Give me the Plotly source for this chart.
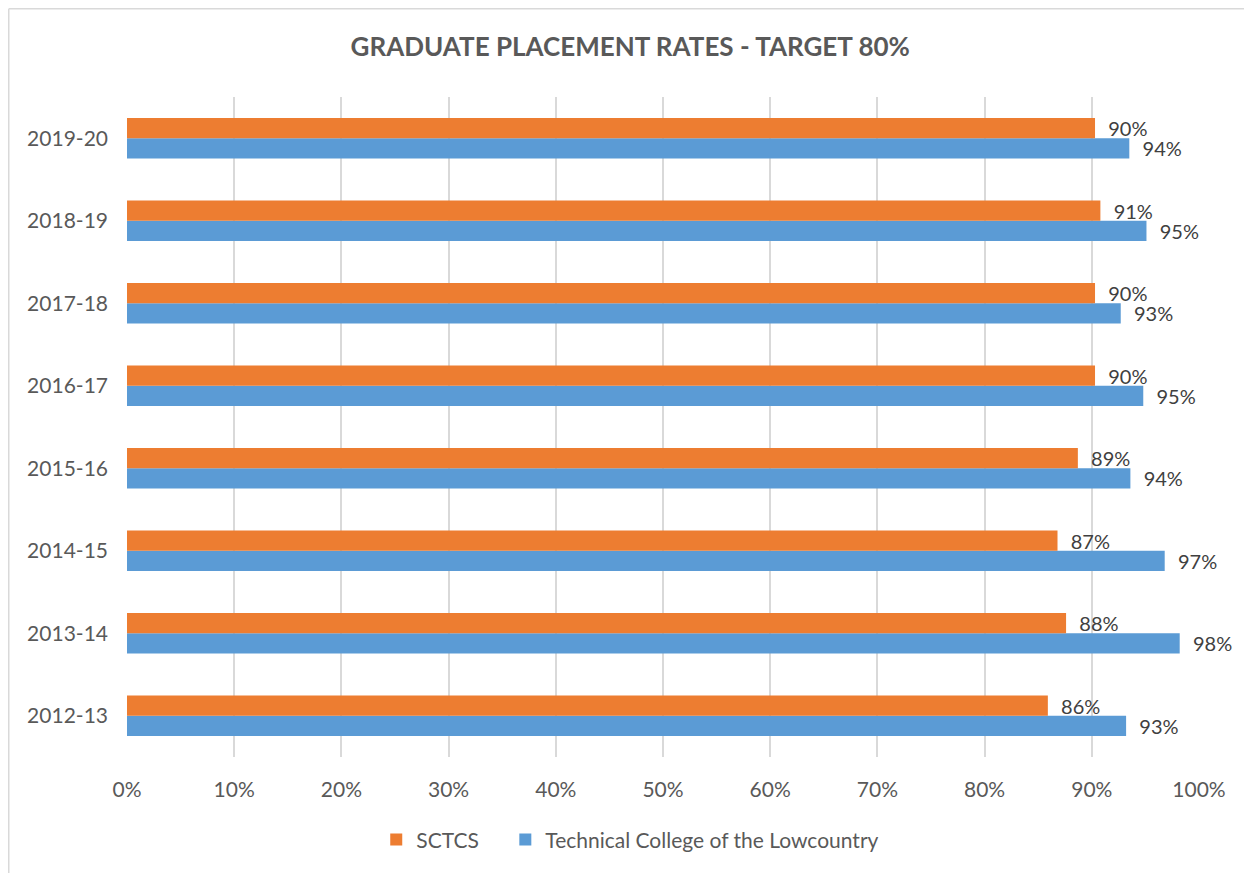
import plotly.graph_objects as go

years = ["2012-13", "2013-14", "2014-15", "2015-16", "2016-17", "2017-18", "2018-19", "2019-20"]
sctcs = [0.859, 0.876, 0.868, 0.887, 0.903, 0.903, 0.908, 0.903]
tcl = [0.932, 0.982, 0.968, 0.936, 0.948, 0.927, 0.951, 0.935]

font_family = "Lato, 'Open Sans', sans-serif"
label_tpl = "\u00a0\u00a0%{x:.0%}"

fig = go.Figure()

# blue first so it sits below the orange bar in each group
fig.add_trace(go.Bar(y=years, x=tcl, orientation="h", name="Technical College of the Lowcountry",
                     marker=dict(color="#5b9bd5", line=dict(width=0)),
                     texttemplate=label_tpl, textposition="outside", constraintext="none",
                     textfont=dict(size=20, color="#404040"), cliponaxis=False))
fig.add_trace(go.Bar(y=years, x=sctcs, orientation="h", name="SCTCS\u00a0\u00a0\u00a0\u00a0",
                     marker=dict(color="#ed7d31", line=dict(width=0)),
                     texttemplate=label_tpl, textposition="outside", constraintext="none",
                     textfont=dict(size=20, color="#404040"), cliponaxis=False))

fig.update_layout(
    width=1252, height=873,
    paper_bgcolor="white", plot_bgcolor="white",
    font=dict(family=font_family, color="#595959"),
    title=dict(text="<b>GRADUATE PLACEMENT RATES - TARGET 80%</b>",
               x=0.497, xref="container", y=0.955, yref="container", yanchor="middle",
               font=dict(size=26, color="#595959", family=font_family)),
    margin=dict(l=119, r=61, t=89, b=124, autoexpand=False),
    barmode="group", bargap=0.51, bargroupgap=0,
    showlegend=True,
    legend=dict(orientation="h", traceorder="reversed", x=0.497, xref="container", xanchor="center",
                y=0.047, yref="container", yanchor="middle", bgcolor="rgba(0,0,0,0)",
                font=dict(size=21, color="#595959")),
    xaxis=dict(range=[0, 1], tickformat=".0%", dtick=0.1, showgrid=True, automargin=False,
               gridcolor="#d9d9d9", gridwidth=1.5, zeroline=False, showline=False,
               tickfont=dict(size=21, color="#595959"), ticks="", ticklabelstandoff=18),
    yaxis=dict(showgrid=False, showline=False, ticks="", automargin=False,
               tickfont=dict(size=21, color="#595959"), ticklabelstandoff=18),
    shapes=[
        dict(type="line", xref="paper", yref="paper", x0=-0.1103, x1=-0.1103, y0=-0.3, y1=1.1337,
             line=dict(color="#d9d9d9", width=1.5)),
        dict(type="line", xref="paper", yref="paper", x0=-0.1103, x1=1.2, y0=1.1337, y1=1.1337,
             line=dict(color="#d9d9d9", width=1.5)),
    ],
)

fig.write_html("out.html")
